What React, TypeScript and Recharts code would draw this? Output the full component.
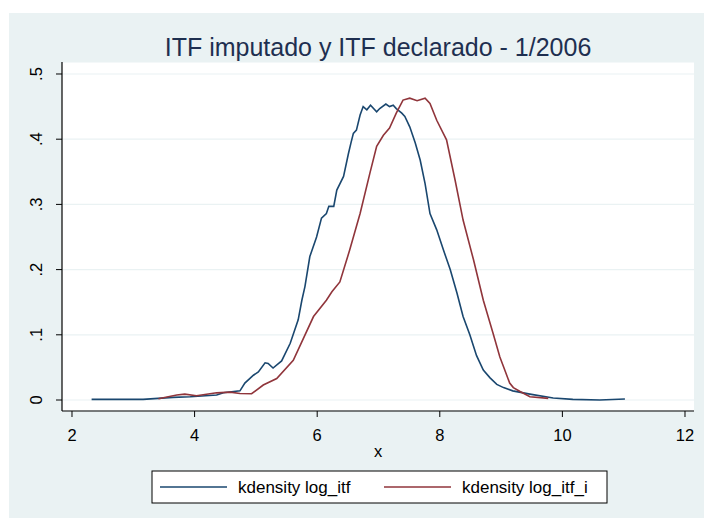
import React from 'react';
import { LineChart, Line, XAxis, YAxis, CartesianGrid } from 'recharts';

const titleText = 'ITF imputado y ITF declarado - 1/2006';
const xLabel = 'x';
const seriesNames = ['kdensity log_itf', 'kdensity log_itf_i'];
const xTicks = [2, 4, 6, 8, 10, 12];
const yTicks = [0, 0.1, 0.2, 0.3, 0.4, 0.5];
const yTickLabels = ['0', '.1', '.2', '.3', '.4', '.5'];

const blueX = [2.32, 3.16, 3.65, 3.93, 4.36, 4.47, 4.74, 4.82, 4.96, 5.04, 5.15, 5.2, 5.28, 5.42, 5.56, 5.69, 5.75, 5.8, 5.88, 5.99, 6.07, 6.15, 6.19, 6.27, 6.32, 6.43, 6.51, 6.55, 6.59, 6.64, 6.7, 6.75, 6.81, 6.87, 6.97, 7.02, 7.12, 7.18, 7.24, 7.29, 7.38, 7.43, 7.51, 7.6, 7.68, 7.76, 7.84, 7.95, 8.06, 8.17, 8.28, 8.38, 8.49, 8.6, 8.71, 8.82, 8.93, 9.04, 9.19, 9.47, 9.85, 10.17, 10.61, 11.02];
const blueY = [0.001, 0.001, 0.004, 0.005, 0.0077, 0.011, 0.014, 0.026, 0.038, 0.043, 0.057, 0.056, 0.049, 0.06, 0.087, 0.123, 0.153, 0.174, 0.22, 0.25, 0.279, 0.286, 0.297, 0.297, 0.322, 0.343, 0.378, 0.394, 0.409, 0.414, 0.437, 0.45, 0.445, 0.452, 0.442, 0.447, 0.454, 0.45, 0.452, 0.447, 0.44, 0.435, 0.419, 0.394, 0.368, 0.332, 0.286, 0.261, 0.23, 0.2, 0.164, 0.128, 0.1, 0.068, 0.046, 0.034, 0.024, 0.019, 0.014, 0.009, 0.003, 0.001, 0, 0.0015];

const redX = [3.41, 3.71, 3.84, 4.03, 4.36, 4.58, 4.74, 4.93, 5.12, 5.34, 5.61, 5.94, 6.15, 6.24, 6.37, 6.53, 6.7, 6.86, 6.97, 7.08, 7.18, 7.29, 7.4, 7.51, 7.63, 7.76, 7.84, 7.95, 8.11, 8.25, 8.38, 8.55, 8.71, 8.87, 8.98, 9.04, 9.14, 9.2, 9.31, 9.47, 9.77];
const redY = [0.002, 0.0077, 0.009, 0.0066, 0.011, 0.012, 0.01, 0.0097, 0.023, 0.033, 0.061, 0.128, 0.153, 0.166, 0.181, 0.23, 0.286, 0.348, 0.389, 0.406, 0.417, 0.44, 0.46, 0.463, 0.459, 0.463, 0.455, 0.429, 0.399, 0.337, 0.276, 0.215, 0.153, 0.102, 0.066, 0.051, 0.026, 0.019, 0.013, 0.005, 0.0025];

const blueData = blueX.map((x, i) => ({ x, y: blueY[i] }));
const redData = redX.map((x, i) => ({ x, y: redY[i] }));

const BLUE = '#1A476F';
const RED = '#90353B';
const BG = '#EAF2F3';
const FONT = '"Liberation Sans", Arial, sans-serif';

const YTick = (props: any) => {
  const { y, payload } = props;
  const idx = yTicks.indexOf(payload.value);
  const label = idx >= 0 ? yTickLabels[idx] : String(payload.value);
  const bx = 42;
  return (
    <text x={bx} y={y} transform={`rotate(-90, ${bx}, ${y})`} textAnchor="middle" fontSize={16.5} fill="#000" fontFamily={FONT}>
      {label}
    </text>
  );
};

const XTick = (props: any) => {
  const { x, payload } = props;
  return (
    <text x={x} y={441} textAnchor="middle" fontSize={16.5} fill="#000" fontFamily={FONT}>
      {payload.value}
    </text>
  );
};

export default function App() {
  return (
    <div style={{ position: 'absolute', left: 0, top: 0, width: 704, height: 518, background: '#fff', fontFamily: FONT }}>
      <div style={{ position: 'absolute', left: 9, top: 13, width: 695, height: 505, background: BG }} />
      <div style={{ position: 'absolute', left: 0, top: 0 }}>
        <LineChart width={704} height={518} margin={{ top: 62, right: 10, bottom: 67, left: 0 }}>
          <CartesianGrid horizontal={true} vertical={false} fill="#fff" stroke={BG} strokeWidth={1.2} />
          <XAxis
            type="number"
            dataKey="x"
            domain={[1.837, 12.147]}
            ticks={xTicks}
            allowDataOverflow
            height={40}
            tickSize={6}
            axisLine={{ stroke: '#000', strokeWidth: 1.2 }}
            tickLine={{ stroke: '#000' }}
            tick={<XTick />}
          />
          <YAxis
            type="number"
            domain={[-0.01687, 0.5184]}
            ticks={yTicks}
            allowDataOverflow
            width={62}
            tickSize={6}
            axisLine={{ stroke: '#000', strokeWidth: 1.2 }}
            tickLine={{ stroke: '#000' }}
            tick={<YTick />}
          />
          <Line data={blueData} dataKey="y" type="linear" stroke={BLUE} strokeWidth={1.6} dot={false} isAnimationActive={false} />
          <Line data={redData} dataKey="y" type="linear" stroke={RED} strokeWidth={1.6} dot={false} isAnimationActive={false} />
        </LineChart>
      </div>
      <svg width={704} height={518} style={{ position: 'absolute', left: 0, top: 0, pointerEvents: 'none' }}>
        <text x={378} y={56} textAnchor="middle" fontSize={25} fill="#1E2F50" fontFamily={FONT}>{titleText}</text>
        <text x={378} y={457} textAnchor="middle" fontSize={16.5} fill="#000" fontFamily={FONT}>{xLabel}</text>
        <rect x={152} y={471} width={455} height={32} fill="#fff" stroke="#000" strokeWidth={1} />
        <line x1={160} x2={227} y1={487} y2={487} stroke={BLUE} strokeWidth={1.6} />
        <text x={238} y={493} fontSize={17} fill="#000" fontFamily={FONT}>{seriesNames[0]}</text>
        <line x1={384} x2={451} y1={487} y2={487} stroke={RED} strokeWidth={1.6} />
        <text x={462} y={493} fontSize={17} fill="#000" fontFamily={FONT}>{seriesNames[1]}</text>
      </svg>
    </div>
  );
}
